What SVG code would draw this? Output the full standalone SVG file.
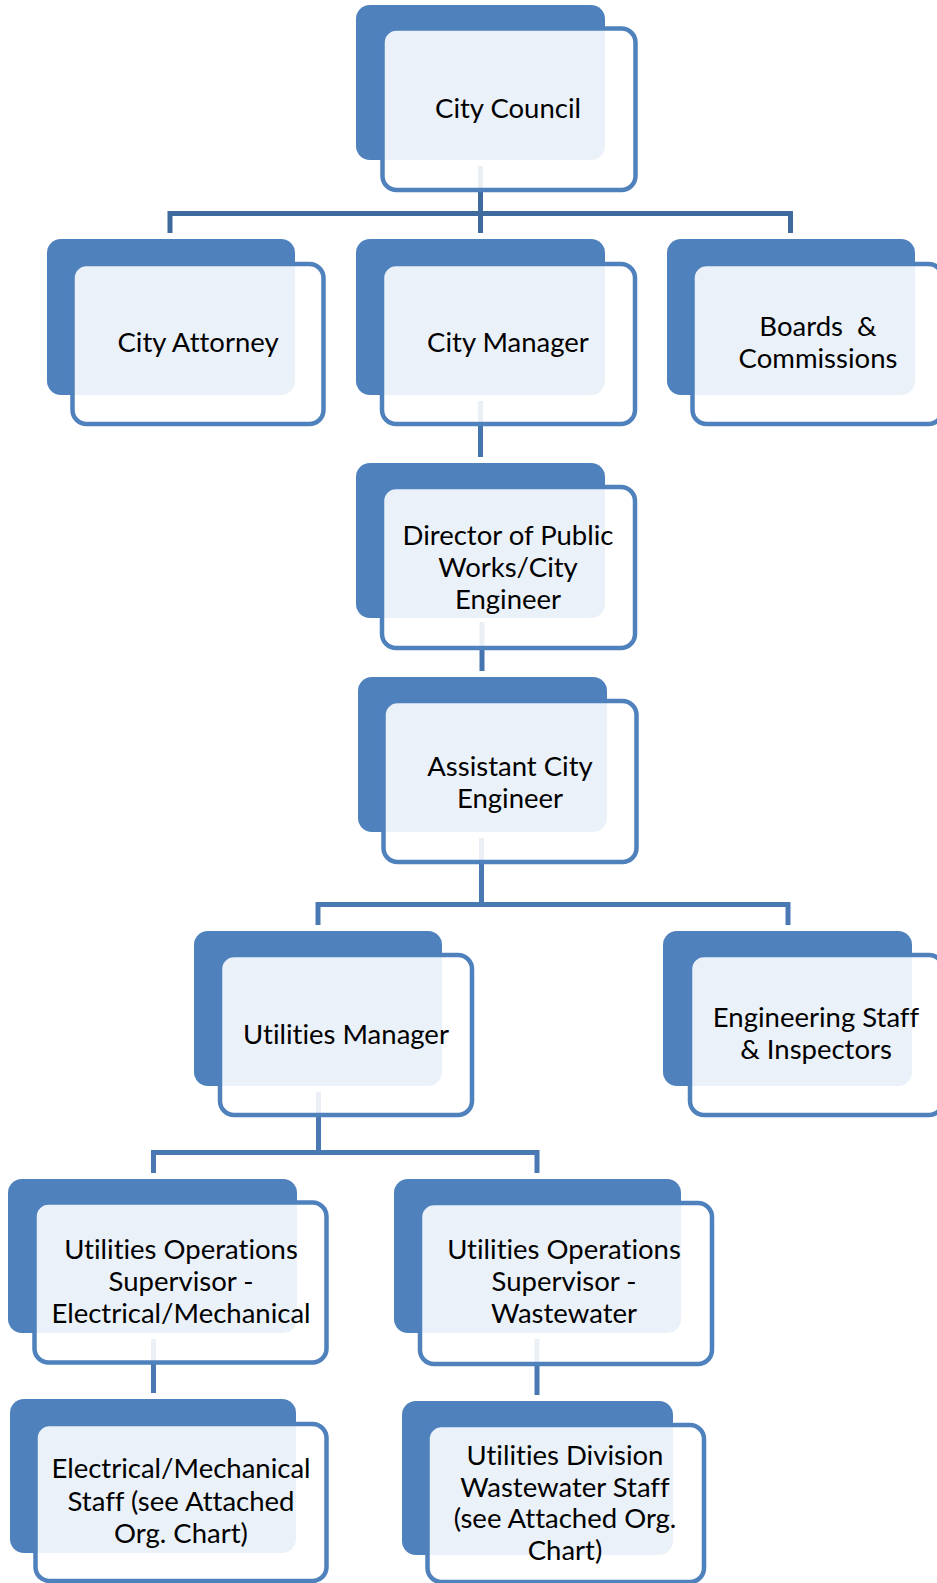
<svg xmlns="http://www.w3.org/2000/svg" width="937" height="1583" viewBox="0 0 937 1583">
  <style>
    .back { fill: #4F81BD; }
    .front { fill: #FFFFFF; fill-opacity: 0.89; stroke: #4F81BD; stroke-width: 4.5; }
    .lbl { font-family: "Lato", "Open Sans", "Liberation Sans", sans-serif; font-size: 27.5px; fill: #000000; text-anchor: middle; font-variant-ligatures: none; font-feature-settings: "liga" 0, "clig" 0; }
    .conn { fill: none; stroke-width: 5; stroke-linejoin: miter; }
    .c1 { stroke: #3E6A9E; }
    .c2 { stroke: #4674AE; }
    .c3 { stroke: #4A78B3; }
  </style>
  <rect width="937" height="1583" fill="#FFFFFF"/>

  <!-- reporting lines -->
  <g id="connectors">
    <path class="conn c1" d="M480.5,166 V233 M170,233 V213.5 H790.5 V233"/>
    <path class="conn c2" d="M480.5,401 V457"/>
    <path class="conn c2" d="M482,622 V671"/>
    <path class="conn c3" d="M481.5,838 V904.5 M318,925 V904.5 H788 V925"/>
    <path class="conn c3" d="M318.5,1092 V1152.5 M153.5,1173 V1152.5 H537 V1173"/>
    <path class="conn c3" d="M153.5,1339 V1393"/>
    <path class="conn c3" d="M537,1339 V1395"/>
  </g>

  <g id="city-council">
    <rect class="back" x="356" y="5" width="249" height="155" rx="14"/>
    <rect class="front" x="382.5" y="28.5" width="253" height="161.5" rx="14"/>
    <text class="lbl" x="508" y="118">City Council</text>
  </g>

  <g id="city-attorney">
    <rect class="back" x="47" y="239" width="248" height="156" rx="14"/>
    <rect class="front" x="72.5" y="264" width="251" height="160" rx="14"/>
    <text class="lbl" x="198" y="352">City Attorney</text>
  </g>

  <g id="city-manager">
    <rect class="back" x="356" y="239" width="249" height="156" rx="14"/>
    <rect class="front" x="382" y="264" width="253" height="160" rx="14"/>
    <text class="lbl" x="508" y="352">City Manager</text>
  </g>

  <g id="boards-commissions">
    <rect class="back" x="667" y="239" width="248" height="156" rx="14"/>
    <rect class="front" x="692.5" y="264" width="250" height="160" rx="14"/>
    <text class="lbl" x="818" y="336">Boards&#160; &amp;</text>
    <text class="lbl" x="818" y="368">Commissions</text>
  </g>

  <g id="director-public-works">
    <rect class="back" x="356" y="463" width="249" height="155" rx="14"/>
    <rect class="front" x="382" y="487" width="253" height="161" rx="14"/>
    <text class="lbl" x="508" y="545">Director of Public</text>
    <text class="lbl" x="508" y="577">Works/City</text>
    <text class="lbl" x="508" y="609">Engineer</text>
  </g>

  <g id="assistant-city-engineer">
    <rect class="back" x="358" y="677" width="249" height="155" rx="14"/>
    <rect class="front" x="383.5" y="701" width="253" height="161" rx="14"/>
    <text class="lbl" x="510" y="776">Assistant City</text>
    <text class="lbl" x="510" y="808">Engineer</text>
  </g>

  <g id="utilities-manager">
    <rect class="back" x="194" y="931" width="248" height="155" rx="14"/>
    <rect class="front" x="220" y="955" width="252" height="160" rx="14"/>
    <text class="lbl" x="346" y="1044">Utilities Manager</text>
  </g>

  <g id="engineering-staff">
    <rect class="back" x="663" y="931" width="249" height="155" rx="14"/>
    <rect class="front" x="690" y="955" width="253" height="160" rx="14"/>
    <text class="lbl" x="816" y="1027">Engineering Staff</text>
    <text class="lbl" x="816" y="1059">&amp; Inspectors</text>
  </g>

  <g id="ops-supervisor-electrical">
    <rect class="back" x="8" y="1179" width="289" height="154" rx="14"/>
    <rect class="front" x="34.5" y="1202.5" width="292" height="160" rx="14"/>
    <text class="lbl" x="181" y="1259">Utilities Operations</text>
    <text class="lbl" x="181" y="1291">Supervisor -</text>
    <text class="lbl" x="181" y="1323">Electrical/Mechanical</text>
  </g>

  <g id="ops-supervisor-wastewater">
    <rect class="back" x="394" y="1179" width="287" height="154" rx="14"/>
    <rect class="front" x="420" y="1203" width="292" height="161" rx="14"/>
    <text class="lbl" x="564" y="1259">Utilities Operations</text>
    <text class="lbl" x="564" y="1291">Supervisor -</text>
    <text class="lbl" x="564" y="1323">Wastewater</text>
  </g>

  <g id="electrical-mechanical-staff">
    <rect class="back" x="10" y="1399" width="286" height="154" rx="14"/>
    <rect class="front" x="35.5" y="1424" width="291" height="157" rx="14"/>
    <text class="lbl" x="181" y="1478">Electrical/Mechanical</text>
    <text class="lbl" x="181" y="1511">Staff (see Attached</text>
    <text class="lbl" x="181" y="1543">Org. Chart)</text>
  </g>

  <g id="wastewater-staff">
    <rect class="back" x="402" y="1401" width="271" height="154" rx="14"/>
    <rect class="front" x="427.5" y="1425" width="276.5" height="157" rx="14"/>
    <text class="lbl" x="565" y="1465">Utilities Division</text>
    <text class="lbl" x="565" y="1497">Wastewater Staff</text>
    <text class="lbl" x="565" y="1528">(see Attached Org.</text>
    <text class="lbl" x="565" y="1560">Chart)</text>
  </g>
</svg>
